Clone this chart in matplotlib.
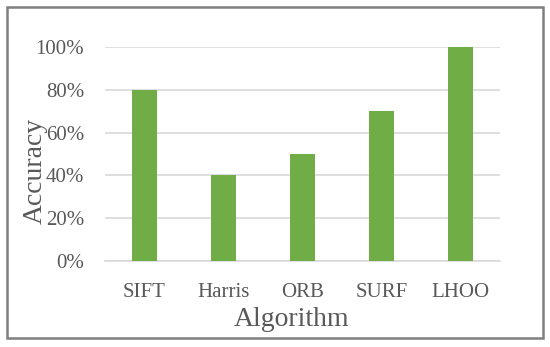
import matplotlib
matplotlib.use("Agg")
import matplotlib.pyplot as plt
from matplotlib.patches import Rectangle
from matplotlib.ticker import PercentFormatter

algoritmi = ["SIFT", "Harris", "ORB", "SURF", "LHOO"]
acuratete = [80, 40, 50, 70, 100]
y_ticks = [0, 20, 40, 60, 80, 100]

plt.rcParams["font.family"] = ["Liberation Serif", "DejaVu Serif"]
text_col = "#595959"

fig = plt.figure(figsize=(5.5, 3.47), dpi=100)
ax = fig.add_axes([105 / 550, 1 - 261 / 347, 395 / 550, 214 / 347])

x = range(len(algoritmi))
ax.bar(x, acuratete, width=0.32, color="#70AD47", zorder=3)

ax.set_xlim(-0.5, len(algoritmi) - 0.5)
ax.set_ylim(0, 100)
ax.set_yticks(y_ticks)
ax.yaxis.set_major_formatter(PercentFormatter(decimals=0))
ax.set_xticks(list(x))
ax.set_xticklabels(algoritmi)

ax.grid(axis="y", color="#D9D9D9", linewidth=1.2, zorder=0)
for s in ["top", "right", "left"]:
    ax.spines[s].set_visible(False)
ax.spines["bottom"].set_color("#D9D9D9")
ax.spines["bottom"].set_linewidth(1.2)
ax.tick_params(length=0, labelsize=15, colors=text_col)
ax.tick_params(axis="y", pad=15)
ax.tick_params(axis="x", pad=16)

# etichetele axelor, puse direct pe figura
fig.text(35 / 550, 1 - 171 / 347, "Accuracy", rotation=90, fontsize=20,
         color=text_col, ha="center", va="center")
fig.text(292 / 550, 1 - 320 / 347, "Algorithm", fontsize=20,
         color=text_col, ha="center", va="center")

# chenarul gri din jurul figurii
fig.patches.append(Rectangle((7 / 550, 9 / 347), 536 / 550, 331 / 347,
                             transform=fig.transFigure, fill=False,
                             edgecolor="#7F7F7F", linewidth=1.8))

fig.savefig("out.png", dpi=100)
